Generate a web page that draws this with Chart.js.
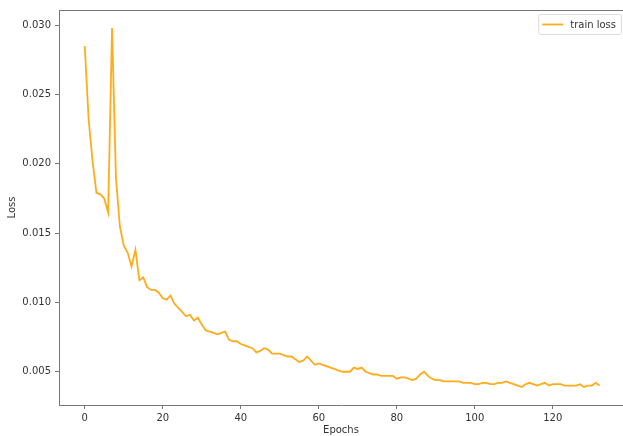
<!DOCTYPE html>
<html><head><meta charset="utf-8">
<script src="https://cdn.jsdelivr.net/npm/chart.js@4.4.1/dist/chart.umd.min.js"></script>
<style>html,body{margin:0;padding:0;background:#fff;overflow:hidden}#wrap{width:623px;height:436px;position:relative}</style>
</head><body><div id="wrap"><canvas id="c" width="623" height="436"></canvas></div>
<script>
const seriesName = 'train loss';
const xTitle = 'Epochs';
const yTitle = 'Loss';
const trainLoss = [
  0.0285, 0.0232, 0.0202, 0.0179, 0.0178, 0.0175, 0.0165, 0.0298, 0.0190, 0.0155,
  0.0141, 0.0136, 0.0126, 0.0138, 0.0116, 0.0118, 0.0111, 0.0109, 0.0109, 0.0107,
  0.0103, 0.0102, 0.0105, 0.0099, 0.0096, 0.0093, 0.0090, 0.0091, 0.0087, 0.0089,
  0.0084, 0.0080, 0.0079, 0.0078, 0.0077, 0.0078, 0.0079, 0.0073, 0.0072, 0.0072,
  0.0070, 0.0069, 0.0068, 0.0067, 0.0064, 0.0065, 0.0067, 0.0066, 0.0063, 0.0063,
  0.0063, 0.0062, 0.0061, 0.0061, 0.0059, 0.0057, 0.0058, 0.0061, 0.0058, 0.0055,
  0.0056, 0.0055, 0.0054, 0.0053, 0.0052, 0.0051, 0.0050, 0.0050, 0.0050, 0.0053,
  0.0052, 0.0053, 0.0050, 0.0049, 0.0048, 0.0048, 0.0047, 0.0047, 0.0047, 0.0047,
  0.0045, 0.0046, 0.0046, 0.0045, 0.0044, 0.0045, 0.0048, 0.0050, 0.0047, 0.0045,
  0.0044, 0.0044, 0.0043, 0.0043, 0.0043, 0.0043, 0.0043, 0.0042, 0.0042, 0.0042,
  0.0041, 0.0041, 0.0042, 0.0042, 0.0041, 0.0041, 0.0042, 0.0042, 0.0043, 0.0042,
  0.0041, 0.0040, 0.0039, 0.0041, 0.0042, 0.0041, 0.0040, 0.0041, 0.0042, 0.0040,
  0.0041, 0.0041, 0.0041, 0.0040, 0.0040, 0.0040, 0.0040, 0.0041, 0.0039, 0.0040,
  0.0040, 0.0042, 0.0040
];
const epochs = trainLoss.map((_, i) => i);
const xTicks = [0, 20, 40, 60, 80, 100, 120];
const yTicks = [0.005, 0.010, 0.015, 0.020, 0.025, 0.030];

const FONT = 'DejaVu Sans';
const TEXT = '#333';
const AXIS = '#777';

const frame = {
  id: 'frame',
  afterDatasetsDraw(chart) {
    const {ctx, chartArea} = chart;
    ctx.save();
    ctx.strokeStyle = AXIS; ctx.lineWidth = 1;
    ctx.beginPath();
    ctx.moveTo(chartArea.left, chartArea.top + 0.5);
    ctx.lineTo(chartArea.right, chartArea.top + 0.5);
    ctx.stroke();
    const ds = chart.data.datasets[0];
    ctx.font = '10px "' + FONT + '"';
    const tw = ctx.measureText(ds.label).width;
    const w = 4 + 21 + 7 + tw + 5, h = 20;
    const x = chartArea.right - 2 - w, y = chartArea.top + 4;
    ctx.beginPath();
    ctx.roundRect(x + 0.5, y + 0.5, w, h, 2);
    ctx.fillStyle = 'rgba(255,255,255,0.8)'; ctx.fill();
    ctx.strokeStyle = '#dcdcdc'; ctx.stroke();
    ctx.beginPath();
    ctx.moveTo(x + 4, y + h / 2 + 0.5); ctx.lineTo(x + 25, y + h / 2 + 0.5);
    ctx.strokeStyle = ds.borderColor; ctx.lineWidth = ds.borderWidth; ctx.stroke();
    ctx.fillStyle = TEXT; ctx.textBaseline = 'middle';
    ctx.fillText(ds.label, x + 32, y + h / 2 + 1);
    ctx.restore();
  }
};

new Chart(document.getElementById('c'), {
  type: 'line',
  data: {
    labels: epochs,
    datasets: [{
      label: seriesName,
      data: epochs.map((e, i) => ({x: e, y: trainLoss[i]})),
      borderColor: '#ffac1c',
      borderWidth: 1.8,
      pointRadius: 0,
      tension: 0,
      fill: false
    }]
  },
  options: {
    responsive: false,
    animation: false,
    devicePixelRatio: 1,
    layout: {padding: {top: 10, right: 0, left: 0, bottom: 0}},
    plugins: {legend: {display: false}, tooltip: {enabled: false}},
    scales: {
      x: {
        type: 'linear', min: -6.6, max: 138,
        afterBuildTicks: s => { s.ticks = xTicks.map(v => ({value: v})); },
        afterFit: s => { s.height = 31; },
        grid: {drawOnChartArea: false, drawTicks: true, tickLength: 4, color: AXIS},
        border: {color: AXIS, width: 1},
        ticks: {font: {family: FONT, size: 10}, color: TEXT, padding: 3, maxRotation: 0},
        title: {display: true, text: xTitle, font: {family: FONT, size: 10}, color: TEXT, padding: {top: 0, bottom: 0}}
      },
      y: {
        type: 'linear', min: 0.0026, max: 0.0311,
        afterBuildTicks: s => { s.ticks = yTicks.map(v => ({value: v})); },
        afterFit: s => { s.width = 59; },
        grid: {drawOnChartArea: false, drawTicks: true, tickLength: 4, color: AXIS},
        border: {color: AXIS, width: 1},
        ticks: {font: {family: FONT, size: 10}, color: TEXT, padding: 4, callback: v => v.toFixed(3)},
        title: {display: true, text: yTitle, font: {family: FONT, size: 10}, color: TEXT, padding: {top: 6, bottom: 0}}
      }
    }
  },
  plugins: [frame]
});
</script></body></html>
